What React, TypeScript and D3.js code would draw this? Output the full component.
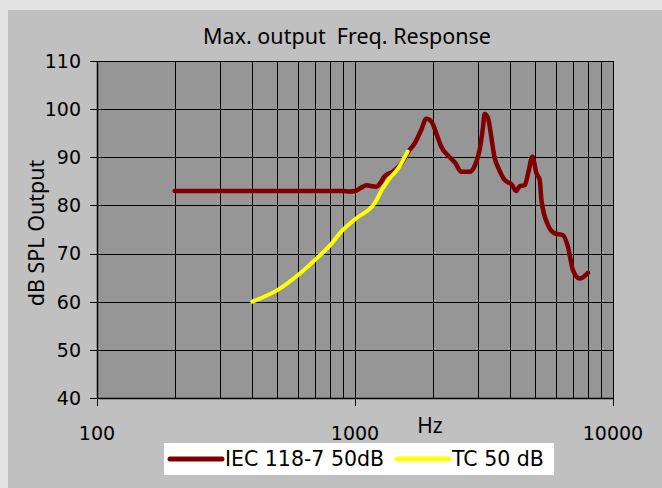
import React from "react";
import * as d3 from "d3";

const iecFreq = [200, 300, 400, 500, 600, 700, 800, 900, 950, 1000, 1050, 1110, 1160, 1210, 1260, 1300, 1400, 1510, 1630, 1700, 1800, 1890, 1980, 2080, 2160, 2330, 2450, 2580, 2780, 2910, 3040, 3130, 3180, 3280, 3380, 3480, 3580, 3800, 4040, 4220, 4350, 4550, 4690, 4870, 5050, 5200, 5280, 5600, 5940, 6400, 6690, 7000, 7430, 8000];
const iecDb = [83, 83, 83, 83, 83, 83, 83, 83, 82.9, 83, 83.6, 84.2, 84, 83.9, 84.8, 86, 87, 88.7, 91.6, 92.8, 95.5, 98, 97.4, 94.5, 92.2, 90, 88.8, 87, 87, 88.2, 91.5, 96, 99, 98.1, 94, 89.8, 88, 85.3, 84.4, 83, 84, 84.2, 86.7, 90.1, 86.7, 85.3, 81.1, 75.9, 74.2, 73.8, 71.4, 66.5, 64.8, 66];

const tcFreq = [400, 500, 610, 710, 800, 890, 1010, 1190, 1280, 1360, 1470, 1535, 1600];
const tcDb = [60, 62.4, 65.8, 69, 71.7, 74.7, 77.3, 80.4, 83.5, 85.6, 87.7, 89.4, 91.2];

const yTicks = [40, 50, 60, 70, 80, 90, 100, 110];
const xMajorTicks = [100, 1000, 10000];
const xMinorTicks = [200, 300, 400, 500, 600, 700, 800, 900, 2000, 3000, 4000, 5000, 6000, 7000, 8000, 9000];

const seriesNames = ["IEC 118-7 50dB", "TC 50 dB"];
const title = "Max. output  Freq. Response";
const yTitle = "dB SPL Output";
const xTitle = "Hz";

export default function App() {
  const W = 662, H = 488;
  const x = d3.scaleLog().domain([100, 10000]).range([97, 613]);
  const y = d3.scaleLinear().domain([40, 110]).range([398, 61]);
  const line = d3
    .line<[number, number]>()
    .x((d) => x(d[0]))
    .y((d) => y(d[1]))
    .curve(d3.curveMonotoneX);
  const iec: [number, number][] = iecFreq.map((f, i) => [f, iecDb[i]]);
  const tc: [number, number][] = tcFreq.map((f, i) => [f, tcDb[i]]);
  const font = "'DejaVu Sans', Verdana, sans-serif";
  const fontH = "'Noto Sans', 'Open Sans', sans-serif";
  const [x0, x1] = x.range();
  const [y0, y1] = y.range();

  return (
    <svg width={W} height={H} style={{ position: "absolute", left: 0, top: 0, display: "block" }}>
      <rect x={0} y={0} width={W} height={H} fill="#e3e3e3" />
      <rect x={8} y={10} width={W - 8} height={H - 10} fill="#c0c0c0" />
      <rect x={x0} y={y1} width={x1 - x0} height={y0 - y1} fill="#969696" />
      {[...xMinorTicks, ...xMajorTicks].map((t) => (
        <line key={"vx" + t} x1={Math.round(x(t)) + 0.5} x2={Math.round(x(t)) + 0.5} y1={y1} y2={y0} stroke="#000" strokeWidth={1} />
      ))}
      {yTicks.map((t) => (
        <line key={"hy" + t} x1={x0} x2={x1} y1={Math.round(y(t)) + 0.5} y2={Math.round(y(t)) + 0.5} stroke="#000" strokeWidth={1} />
      ))}
      {yTicks.map((t) => (
        <line key={"ty" + t} x1={x0 - 7} x2={x0} y1={Math.round(y(t)) + 0.5} y2={Math.round(y(t)) + 0.5} stroke="#000" strokeWidth={1} />
      ))}
      {xMajorTicks.map((t) => (
        <line key={"tx" + t} x1={Math.round(x(t)) + 0.5} x2={Math.round(x(t)) + 0.5} y1={y0} y2={y0 + 8} stroke="#000" strokeWidth={1} />
      ))}
      <line x1={x0 + 0.5} x2={x0 + 0.5} y1={y1} y2={y0} stroke="#000" strokeWidth={1.5} />
      <line x1={x0} x2={x1} y1={y0 + 0.5} y2={y0 + 0.5} stroke="#000" strokeWidth={1.5} />
      <path d={line(iec) || ""} fill="none" stroke="#800000" strokeWidth={4.5} strokeLinejoin="round" strokeLinecap="round" />
      <path d={line(tc) || ""} fill="none" stroke="#ffff00" strokeWidth={4} strokeLinejoin="round" strokeLinecap="round" />
      {yTicks.map((t) => (
        <text key={"ly" + t} x={81} y={y(t)} dy="0.36em" textAnchor="end" fontFamily={font} fontSize={19} fill="#000">
          {t}
        </text>
      ))}
      {xMajorTicks.map((t) => (
        <text key={"lx" + t} x={x(t)} y={440} textAnchor="middle" fontFamily={font} fontSize={19} fill="#000">
          {t}
        </text>
      ))}
      <text x={347} y={44} textAnchor="middle" fontFamily={fontH} fontSize={21.5} fill="#000" style={{ whiteSpace: "pre" }}>
        {title}
      </text>
      <text transform="translate(44,233) rotate(-90)" textAnchor="middle" fontFamily={fontH} fontSize={21.5} fill="#000">
        {yTitle}
      </text>
      <text x={430} y={433} textAnchor="middle" fontFamily={fontH} fontSize={21} fill="#000">
        {xTitle}
      </text>
      <rect x={164} y={443} width={390} height={32} fill="#fff" />
      <line x1={170} x2={222} y1={459} y2={459} stroke="#800000" strokeWidth={5} strokeLinecap="round" />
      <text x={225} y={466} fontFamily={font} fontSize={20.5} fill="#000">
        {seriesNames[0]}
      </text>
      <line x1={397} x2={449} y1={459} y2={459} stroke="#ffff00" strokeWidth={5} strokeLinecap="round" />
      <text x={452} y={466} fontFamily={font} fontSize={20.5} fill="#000">
        {seriesNames[1]}
      </text>
    </svg>
  );
}
